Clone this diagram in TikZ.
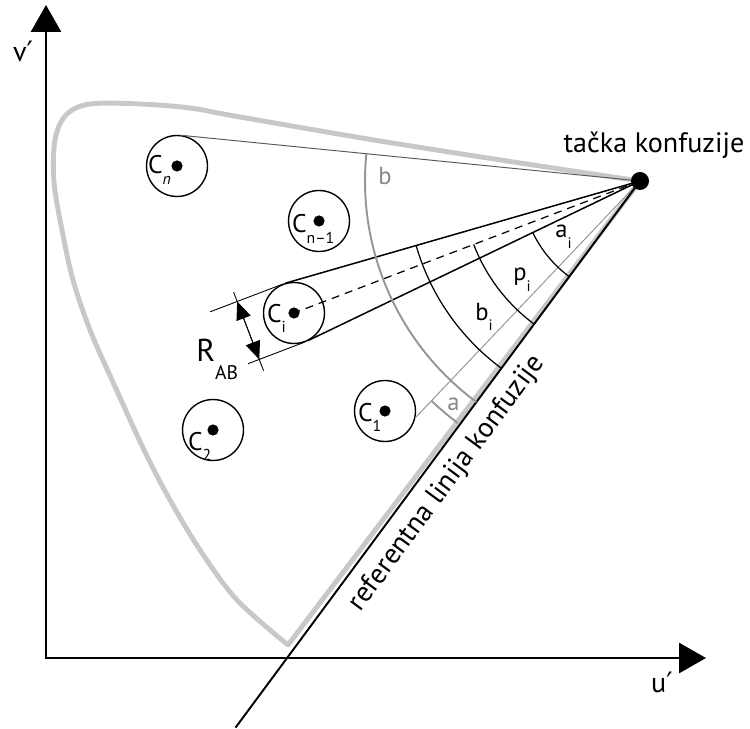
\documentclass[tikz,border=0pt]{standalone}
\usepackage{fontspec}
\setmainfont{PT Sans}
\newfontfamily\primefont{DejaVu Sans}
\usepackage{graphicx}
\usetikzlibrary{calc,arrows.meta}

\definecolor{locusgray}{RGB}{200,200,200}
\definecolor{arcgray}{RGB}{150,150,150}
\definecolor{textgray}{RGB}{135,135,135}
\newcommand{\lo}[2][0.42em]{\raisebox{-#1}{\scalebox{0.62}{#2}}}

\begin{document}
\begin{tikzpicture}[x=0.02cm,y=-0.02cm,
  axis/.style={line width=1.7pt,{Triangle[width=0.6cm,length=0.54cm]}-{Triangle[width=0.6cm,length=0.54cm]}},
  locus/.style={line width=2.8pt,draw=locusgray,line join=round},
  refline/.style={line width=1.1pt},
  tanline/.style={line width=0.85pt},
  centerline/.style={line width=0.7pt,dash pattern=on 0.16cm off 0.12cm},
  thinline/.style={line width=0.55pt,draw=black!65},
  grayline/.style={line width=0.55pt,draw=arcgray},
  grayarc/.style={line width=1.1pt,draw=arcgray},
  blackarc/.style={line width=0.7pt},
  dimline/.style={line width=0.5pt},
  dimarrow/.style={line width=0.5pt,{Triangle[width=0.3cm,length=0.36cm]}-{Triangle[width=0.3cm,length=0.36cm]}},
  cnode/.style={circle,draw,line width=0.8pt,minimum size=1.22cm,inner sep=0pt},
  clabel/.style={font=\fontsize{14.5}{14.5}\selectfont,inner sep=0pt,anchor=base east},
  lbl/.style={font=\fontsize{16}{16}\selectfont,inner sep=0pt},
  slbl/.style={font=\fontsize{14}{14}\selectfont,inner sep=0pt,anchor=base west},
]
\useasboundingbox (0,0) rectangle (750,729);

% axes
\draw[axis] (46,5) -- (46,658) -- (706,658);
\node[lbl,anchor=base] (vlab) at (23,62) {v{\primefont ′}};
\node[lbl,anchor=base] (ulab) at (662,692) {u{\primefont ′}};

% confusion point and locus
\coordinate (P) at (640,181);
\draw[locus] plot[smooth,tension=0.55] coordinates {(288,645) (237,600) (200,550)
  (170,500) (145,452) (112,380) (90,330) (73,280) (62,230) (54,182) (55,140)
  (66,115) (90,104) (140,104) (190,108) (240,117) (380,141) (520,163) (640,181)} -- cycle;

% circles of the colours
\node[cnode] (cn) at (177,166) {};
\node[cnode] (cm) at (319,221) {};
\node[cnode] (ci) at (294,313) {};
\node[cnode] (c1) at (385,411) {};
\node[cnode] (c2) at (213,430) {};
\foreach \c in {cn,cm,ci,c1,c2}
  \fill (\c.center) circle (5.6);
\node[clabel] (lcn) at ($(cn)+(-14,8)$) {C\rlap{\lo{\itshape n}}};
\node[clabel] (lcm) at ($(cm)+(-12,12)$) {C\rlap{\lo{n–1}}};
\node[clabel] (lci) at ($(ci)+(-12,9)$) {C\rlap{\lo{i}}};
\node[clabel] (lc1) at ($(c1)+(-12,10)$) {C\rlap{\lo{1}}};
\node[clabel] (lc2) at ($(c2)+(-10,20)$) {C\rlap{\lo{2}}};

% lines from the confusion point
\coordinate (tn) at ($(P)+(185.69:462.2)$);
\coordinate (tu) at ($(P)+(163.92:369)$);
\coordinate (tl) at ($(P)+(154.32:369)$);
\coordinate (t1) at ($(P)+(133.5:326.5)$);
\coordinate (rend) at ($(P)+(126.5:680)$);
\draw[thinline] (P) -- (tn);
\draw[tanline] (P) -- (tu);
\draw[tanline] (P) -- (tl);
\draw[centerline] (P) -- (ci.center);
\draw[grayline] (P) -- (t1);
\draw[refline] (P) -- (rend);

% arcs round the confusion point
\draw[grayarc] ($(P)+(185.69:275)$) arc[start angle=185.69,end angle=126.5,radius=275];
\draw[grayarc] ($(P)+(133.5:303)$) arc[start angle=133.5,end angle=127,radius=303];
\foreach \a/\r in {163.92/233,159.12/178,154.32/119}
  \draw[blackarc] ($(P)+(\a:\r)$) arc[start angle=\a,end angle=126.5,radius=\r];
\fill (P) circle (9);

% R_AB dimension
\coordinate (e1) at ($(ci.center)+(249.12:31)$);
\coordinate (e2) at ($(ci.center)+(69.12:31)$);
\coordinate (d1) at ($(e1)+(159.12:49)$);
\coordinate (d2) at ($(e2)+(159.12:49)$);
\draw[dimline] (e1) -- ($(e1)+(159.12:78)$);
\draw[dimline] (e2) -- ($(e2)+(159.12:61)$);
\draw[dimline] ($(d1)+(249.12:10)$) -- ($(d2)+(69.12:12)$);
\draw[dimarrow] (d1) -- (d2);

% labels
\node[lbl,anchor=base] (tacka) at (654,153) {tačka konfuzije};
\node[lbl,rotate=53.5] (reflab) at ($(P)+(126.5:358)+(36.5:25)$) {referentna linija konfuzije};
\node[slbl,text=textgray] (lb) at (378,185) {b};
\node[slbl,text=textgray] (la) at (447,410) {a};
\node[slbl] (lai) at (555,238) {a\lo{i}};
\node[slbl] (lpi) at (513,281) {p\lo{i}};
\node[slbl] (lbi) at (475,320) {b\lo{i}};
\node[slbl,font=\fontsize{18}{18}\selectfont] (lr) at (196,361) {R\lo[0.58em]{AB}};
\end{tikzpicture}
\end{document}
